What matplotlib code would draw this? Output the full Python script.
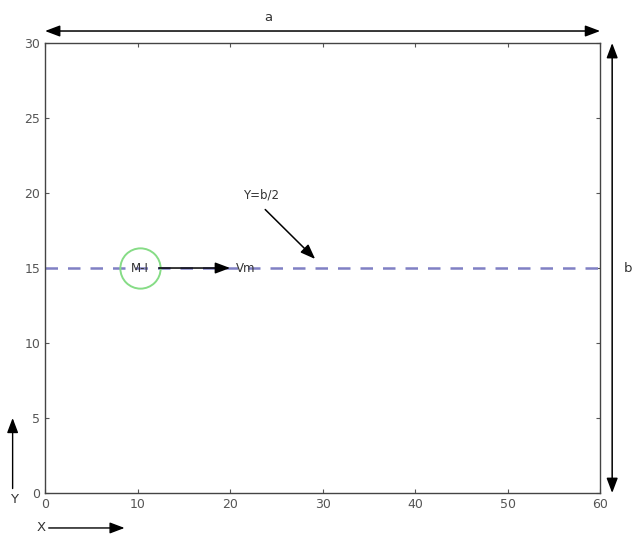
import matplotlib
matplotlib.use("Agg")
import matplotlib.pyplot as plt

x_ticks = [0, 10, 20, 30, 40, 50, 60]
y_ticks = [0, 5, 10, 15, 20, 25, 30]
line_x = [0, 60]
line_y = [15, 15]
mi_pos = (10.3, 15)
vm_arrow = [(12.3, 15), (20.0, 15)]
yb2_arrow = [(23.8, 18.9), (29.2, 15.6)]

fig = plt.figure(figsize=(6.33, 5.37), dpi=100)
ax = fig.add_axes([0.0711, 0.0819, 0.877, 0.838])
ax.set_xlim(0, 60)
ax.set_ylim(0, 30)
ax.set_xticks(x_ticks)
ax.set_yticks(y_ticks)
ax.tick_params(direction='in', top=True, right=True, length=3, labelsize=9,
               colors='#555555', labelcolor='#555555')
for s in ax.spines.values():
    s.set_color('#444444')
    s.set_linewidth(1.0)

HEAD = '-|>,head_length=0.45,head_width=0.17'
HEAD2 = '<|-|>,head_length=0.45,head_width=0.17'

ax.plot(line_x, line_y, linestyle=(0, (5, 4)), color='#8080c4', lw=1.8)
ax.plot([mi_pos[0]], [mi_pos[1]], marker='o', markersize=29, markerfacecolor='none',
        markeredgecolor='#86dc86', markeredgewidth=1.4)
ax.text(mi_pos[0], mi_pos[1], 'M-I', ha='center', va='center', fontsize=8.5, color='#333333')
ax.annotate('', xy=vm_arrow[1], xytext=vm_arrow[0],
            arrowprops=dict(arrowstyle=HEAD, color='black', lw=1.1, mutation_scale=20,
                            shrinkA=0, shrinkB=0))
ax.text(20.6, 15, 'Vm', ha='left', va='center', fontsize=8.5, color='#333333')
ax.annotate('', xy=yb2_arrow[1], xytext=yb2_arrow[0],
            arrowprops=dict(arrowstyle=HEAD, color='black', lw=1.1, mutation_scale=20,
                            shrinkA=0, shrinkB=0))
ax.text(23.3, 19.9, 'Y=b/2', ha='center', va='center', fontsize=8.5, color='#333333')

# outer dimension arrows
ax.annotate('', xy=(60, 30.8), xytext=(0, 30.8), annotation_clip=False,
            arrowprops=dict(arrowstyle=HEAD2, color='black', lw=1.1, mutation_scale=20,
                            shrinkA=0, shrinkB=0))
ax.text(24.1, 31.7, 'a', ha='center', va='center', fontsize=9.5, color='#333333', clip_on=False)
ax.annotate('', xy=(61.3, 0), xytext=(61.3, 30), annotation_clip=False,
            arrowprops=dict(arrowstyle=HEAD2, color='black', lw=1.1, mutation_scale=20,
                            shrinkA=0, shrinkB=0))
ax.text(63.0, 15, 'b', ha='center', va='center', fontsize=9.5, color='#333333', clip_on=False)

ax.annotate('', xy=(-3.5, 5.0), xytext=(-3.5, 0.3), annotation_clip=False,
            arrowprops=dict(arrowstyle=HEAD, color='black', lw=1.0, mutation_scale=20,
                            shrinkA=0, shrinkB=0))
ax.text(-3.4, -0.4, 'Y', ha='center', va='center', fontsize=9.5, color='#333333', clip_on=False)
ax.annotate('', xy=(8.6, -2.33), xytext=(0.4, -2.33), annotation_clip=False,
            arrowprops=dict(arrowstyle=HEAD, color='black', lw=1.0, mutation_scale=20,
                            shrinkA=0, shrinkB=0))
ax.text(-0.4, -2.33, 'X', ha='center', va='center', fontsize=9.5, color='#333333', clip_on=False)

fig.savefig('out.png', dpi=100)
